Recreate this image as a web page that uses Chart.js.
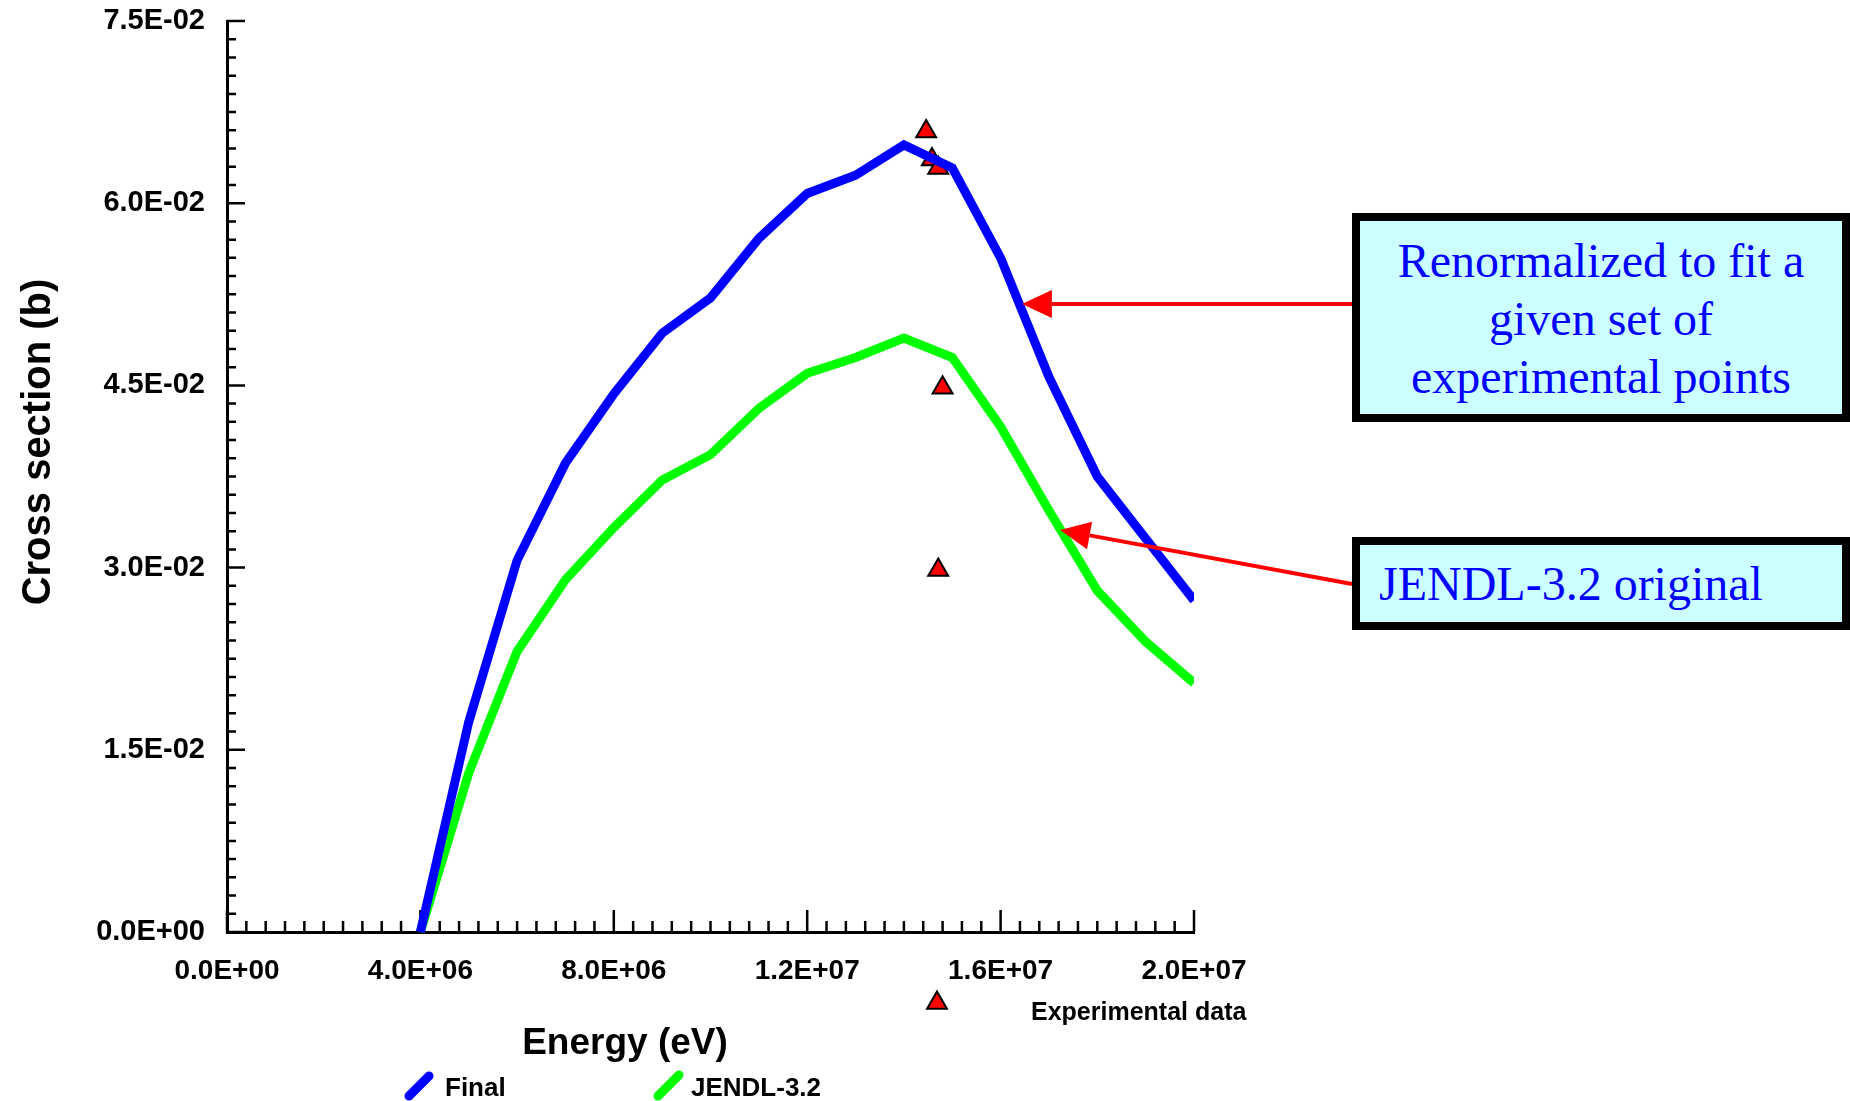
<!DOCTYPE html>
<html>
<head>
<meta charset="utf-8">
<title>Cross section vs energy</title>
<script src="https://cdn.jsdelivr.net/npm/chart.js@4/dist/chart.umd.min.js"></script>
<style>
  body { margin: 0; background: #fff; }
  #wrap { position: relative; width: 1850px; height: 1101px; overflow: hidden; }
  .note {
    position: absolute;
    box-sizing: border-box;
    border: 8px solid #000;
    background: #ccffff;
    color: #0000ff;
    font-family: 'Liberation Serif', 'Times New Roman', serif;
    font-size: 48px;
    line-height: 58px;
  }
  #note1 { left: 1352px; top: 213px; width: 498px; height: 209px; text-align: center; padding-top: 11px; }
  #note2 { left: 1352px; top: 537px; width: 498px; height: 93px; padding: 10px 0 0 19px; }
</style>
</head>
<body>
<div id="wrap">
  <canvas id="xsChart"></canvas>
  <div class="note" id="note1">Renormalized to fit a<br>given set of<br>experimental points</div>
  <div class="note" id="note2">JENDL-3.2 original</div>
</div>
<script>
// incident energy grid (eV) shared by both evaluations
var energies = [4.0e6, 5.0e6, 6.0e6, 7.0e6, 8.0e6, 9.0e6, 1.0e7, 1.1e7, 1.2e7,
                1.3e7, 1.4e7, 1.5e7, 1.6e7, 1.7e7, 1.8e7, 1.9e7, 2.0e7];
// cross sections in barns
var finalXs = [0, 0.0173, 0.0306, 0.0386, 0.0443, 0.0493, 0.0522, 0.0571, 0.0608,
               0.0623, 0.0648, 0.0629, 0.0555, 0.0457, 0.0375, 0.0324, 0.0273];
var jendlXs = [0, 0.0131, 0.0231, 0.0290, 0.0333, 0.0372, 0.0393, 0.0431, 0.0460,
               0.0473, 0.0489, 0.0473, 0.0416, 0.0347, 0.0281, 0.0239, 0.0205];
// measured points
var expEnergies = [1.446e7, 1.458e7, 1.471e7, 1.480e7, 1.471e7];
var expXs = [0.0659, 0.0636, 0.0629, 0.0448, 0.0298];

var xTicks = [0, 4e6, 8e6, 1.2e7, 1.6e7, 2.0e7];
var xTickLabels = ['0.0E+00', '4.0E+06', '8.0E+06', '1.2E+07', '1.6E+07', '2.0E+07'];
var yTicks = [0, 0.015, 0.03, 0.045, 0.06, 0.075];
var yTickLabels = ['0.0E+00', '1.5E-02', '3.0E-02', '4.5E-02', '6.0E-02', '7.5E-02'];

// arrow tips in data units (energy, cross section)
var arrowTips = [[1.644e7, 0.0517], [1.723e7, 0.0331]];
var arrowTails = [[1352, 304], [1352, 584]];

var SANS = "'Liberation Sans', Arial, sans-serif";
var TRI_R = 11.5;

function toPoints(xs, ys) {
    return xs.map(function (x, i) { return { x: x, y: ys[i] }; });
}

function triangle(ctx, x, y, r) {
    ctx.beginPath();
    ctx.moveTo(x, y - r);
    ctx.lineTo(x + r * Math.sin(2 * Math.PI / 3), y - r * Math.cos(2 * Math.PI / 3));
    ctx.lineTo(x + r * Math.sin(4 * Math.PI / 3), y - r * Math.cos(4 * Math.PI / 3));
    ctx.closePath();
    ctx.fillStyle = '#ff0000';
    ctx.fill();
    ctx.lineWidth = 2;
    ctx.strokeStyle = '#000';
    ctx.stroke();
}

// inward tick marks, drawn under the curves
var innerTicks = {
    id: 'innerTicks',
    beforeDatasetsDraw: function (chart) {
        var ctx = chart.ctx, xs = chart.scales.x, ys = chart.scales.y, a = chart.chartArea;
        ctx.save();
        ctx.strokeStyle = '#000';
        ctx.lineWidth = 2.5;
        ctx.beginPath();
        for (var i = 0; i <= 50; i++) {
            var py = ys.getPixelForValue(i * 0.0015);
            ctx.moveTo(a.left, py);
            ctx.lineTo(a.left + (i % 10 === 0 ? 18 : 9), py);
            var px = xs.getPixelForValue(i * 4e5);
            ctx.moveTo(px, a.bottom);
            ctx.lineTo(px, a.bottom - (i % 10 === 0 ? 22 : 11));
        }
        ctx.stroke();
        ctx.restore();
    }
};

// axis titles, legend and the red arrows
var decorations = {
    id: 'decorations',
    afterDraw: function (chart) {
        var ctx = chart.ctx, xs = chart.scales.x, ys = chart.scales.y;
        ctx.save();
        ctx.fillStyle = '#000';

        ctx.font = 'bold 37px ' + SANS;
        ctx.textAlign = 'center';
        ctx.textBaseline = 'alphabetic';
        ctx.fillText('Energy (eV)', 625, 1054);

        ctx.save();
        ctx.translate(50, 442);
        ctx.rotate(-Math.PI / 2);
        ctx.font = 'bold 40px ' + SANS;
        ctx.fillText('Cross section (b)', 0, 0);
        ctx.restore();

        // legend
        ctx.textAlign = 'left';
        ctx.font = 'bold 25px ' + SANS;
        triangle(ctx, 937, 1003, TRI_R);
        ctx.fillStyle = '#000';
        ctx.fillText('Experimental data', 1031, 1020);

        ctx.lineCap = 'round';
        ctx.lineWidth = 9;
        ctx.strokeStyle = '#0000ff';
        ctx.beginPath(); ctx.moveTo(409, 1096); ctx.lineTo(429, 1076); ctx.stroke();
        ctx.strokeStyle = '#00ff00';
        ctx.beginPath(); ctx.moveTo(658, 1096); ctx.lineTo(679, 1075); ctx.stroke();
        ctx.font = 'bold 26px ' + SANS;
        ctx.fillText('Final', 445, 1096);
        ctx.fillText('JENDL-3.2', 691, 1096);

        // arrows from the notes to the curves
        ctx.strokeStyle = '#ff0000';
        ctx.fillStyle = '#ff0000';
        ctx.lineCap = 'butt';
        ctx.lineWidth = 4;
        arrowTips.forEach(function (tip, k) {
            var tx = xs.getPixelForValue(tip[0]), ty = ys.getPixelForValue(tip[1]);
            var sx = arrowTails[k][0], sy = arrowTails[k][1];
            var ang = Math.atan2(sy - ty, sx - tx);
            var hl = 30, hw = 14;
            var bx = tx + Math.cos(ang) * hl, by = ty + Math.sin(ang) * hl;
            ctx.beginPath(); ctx.moveTo(sx, sy); ctx.lineTo(bx, by); ctx.stroke();
            ctx.beginPath();
            ctx.moveTo(tx, ty);
            ctx.lineTo(bx - Math.sin(ang) * hw, by + Math.cos(ang) * hw);
            ctx.lineTo(bx + Math.sin(ang) * hw, by - Math.cos(ang) * hw);
            ctx.closePath();
            ctx.fill();
        });
        ctx.restore();
    }
};

var ctx = document.getElementById('xsChart');
var chart = new Chart(ctx, {
    type: 'scatter',
    data: {
        datasets: [
            {
                label: 'Final',
                data: toPoints(energies, finalXs),
                showLine: true,
                borderColor: '#0000ff',
                borderWidth: 9,
                pointRadius: 0,
                clip: { left: 10, right: 0, top: 10, bottom: 10 }
            },
            {
                label: 'JENDL-3.2',
                data: toPoints(energies, jendlXs),
                showLine: true,
                borderColor: '#00ff00',
                borderWidth: 9,
                pointRadius: 0,
                clip: { left: 10, right: 0, top: 10, bottom: 10 }
            },
            {
                label: 'Experimental data',
                data: toPoints(expEnergies, expXs),
                showLine: false,
                pointStyle: 'triangle',
                pointRadius: TRI_R,
                backgroundColor: '#ff0000',
                borderColor: '#000',
                borderWidth: 2,
                clip: false
            }
        ]
    },
    options: {
        responsive: true,
        maintainAspectRatio: false,
        animation: false,
        layout: { padding: { left: 0, top: 21, right: 656, bottom: 69 } },
        plugins: {
            legend: { display: false },
            tooltip: { enabled: false }
        },
        scales: {
            x: {
                type: 'linear',
                min: 0,
                max: 2e7,
                afterBuildTicks: function (scale) {
                    scale.ticks = xTicks.map(function (v) { return { value: v }; });
                },
                afterFit: function (scale) {
                    scale.height = 100;
                    scale.paddingLeft = 0;
                    scale.paddingRight = 0;
                },
                grid: { display: false, drawTicks: false },
                border: { display: true, color: '#000', width: 3 },
                ticks: {
                    color: '#000',
                    padding: 22,
                    maxRotation: 0,
                    font: { family: SANS, size: 28, weight: 'bold' },
                    callback: function (v) { return xTickLabels[xTicks.indexOf(v)]; }
                }
            },
            y: {
                type: 'linear',
                min: 0,
                max: 0.075,
                afterBuildTicks: function (scale) {
                    scale.ticks = yTicks.map(function (v) { return { value: v }; });
                },
                afterFit: function (scale) {
                    scale.width = 227;
                    scale.paddingTop = 0;
                    scale.paddingBottom = 0;
                },
                grid: { display: false, drawTicks: false },
                border: { display: true, color: '#000', width: 3 },
                ticks: {
                    color: '#000',
                    padding: 22,
                    font: { family: SANS, size: 29, weight: 'bold' },
                    callback: function (v) { return yTickLabels[yTicks.indexOf(v)]; }
                }
            }
        }
    },
    plugins: [innerTicks, decorations]
});
</script>
</body>
</html>
